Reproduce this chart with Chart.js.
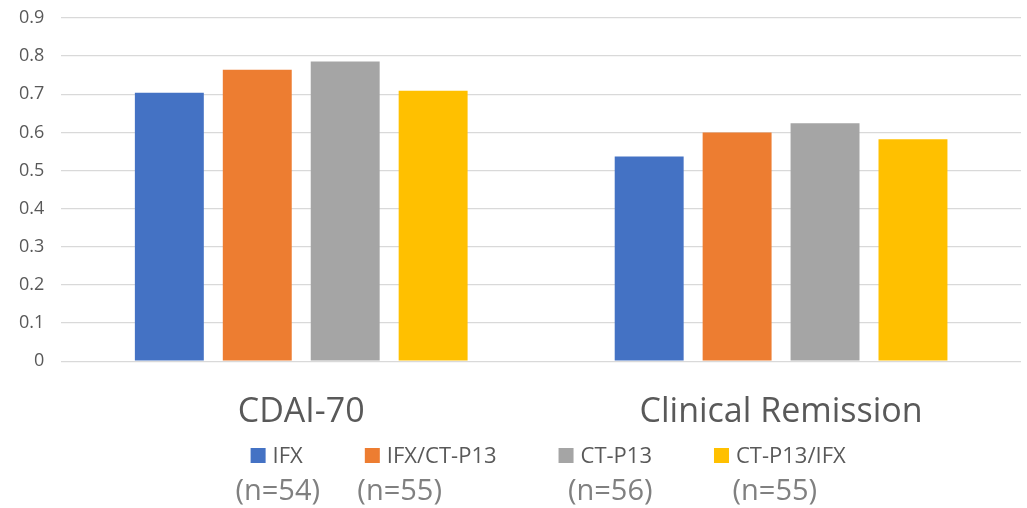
<!DOCTYPE html>
<html>
<head>
<meta charset="utf-8">
<script src="https://cdn.jsdelivr.net/npm/chart.js@4.4.0/dist/chart.umd.min.js"></script>
<style>
  html, body { margin: 0; padding: 0; background: #fff; }
</style>
</head>
<body>
<canvas id="myChart" width="1027" height="508"></canvas>
<script>
// endpoints on the x axis
const categories = ["CDAI-70", "Clinical Remission"];

// treatment groups, one bar each per endpoint
const groups = ["IFX", "IFX/CT-P13", "CT-P13", "CT-P13/IFX"];
const groupSizes = ["(n=54)", "(n=55)", "(n=56)", "(n=55)"];
const groupColors = ["#4472C4", "#ED7D31", "#A5A5A5", "#FFC000"];

// response rates
const ifx = [0.704, 0.537];
const ifxToCtp = [0.764, 0.600];
const ctp = [0.786, 0.624];
const ctpToIfx = [0.709, 0.582];

const yTickLabels = ["0", "0.1", "0.2", "0.3", "0.4", "0.5", "0.6", "0.7", "0.8", "0.9"];

const FONT = '"Open Sans", "Liberation Sans", sans-serif';
const TEXT = "#595959";

const seriesValues = [ifx, ifxToCtp, ctp, ctpToIfx];

// legend row under the axis, with the group sizes below each entry
const legendRow = {
    id: "legendRow",
    afterDraw(chart, args, opts) {
        const ctx = chart.ctx;
        const area = chart.chartArea;
        const box = 15, textGap = 7;
        ctx.save();
        ctx.font = "22px " + FONT;
        const items = chart.data.datasets.map(ds => ({
            text: ds.label,
            color: ds.backgroundColor,
            w: box + textGap + ctx.measureText(ds.label).width
        }));
        const total = items.reduce((s, it) => s + it.w, 0) + opts.gap * (items.length - 1);
        let x = (area.left + area.right) / 2 + opts.shift - total / 2;
        const boxTop = chart.height - 60;
        items.forEach((it, i) => {
            ctx.fillStyle = it.color;
            ctx.fillRect(x, boxTop, box, box);
            ctx.font = "22px " + FONT;
            ctx.fillStyle = TEXT;
            ctx.textAlign = "left";
            ctx.textBaseline = "alphabetic";
            ctx.fillText(it.text, x + box + textGap, boxTop + box);

            ctx.font = "29px " + FONT;
            ctx.fillStyle = "#808080";
            ctx.textAlign = "center";
            ctx.fillText(groupSizes[i], x + it.w / 2 + opts.sizeShift[i], chart.height - 8);
            x += it.w + opts.gap;
        });
        ctx.restore();
    }
};

const ctx = document.getElementById("myChart").getContext("2d");
const myChart = new Chart(ctx, {
    type: "bar",
    data: {
        labels: categories,
        datasets: groups.map((g, i) => ({
            label: g,
            data: seriesValues[i],
            backgroundColor: groupColors[i],
            borderWidth: 0,
            categoryPercentage: 0.733,
            barPercentage: 0.784
        }))
    },
    options: {
        responsive: false,
        animation: false,
        layout: {
            padding: { left: 19, right: 6, top: 18, bottom: 52 }
        },
        scales: {
            x: {
                grid: { display: false },
                border: { display: false },
                ticks: {
                    color: TEXT,
                    padding: 23,
                    font: { family: FONT, size: 34 }
                }
            },
            y: {
                min: 0,
                max: 0.9,
                border: { display: false },
                // invisible tick marks keep the labels clear of the grid
                grid: { color: "#d9d9d9", lineWidth: 1.3, drawTicks: true, tickLength: 17, tickColor: "transparent" },
                ticks: {
                    stepSize: 0.1,
                    padding: 0,
                    color: TEXT,
                    font: { family: FONT, size: 18 },
                    callback: (v, i) => yTickLabels[i]
                }
            }
        },
        plugins: {
            legend: { display: false },
            tooltip: { enabled: false },
            legendRow: { gap: 62, shift: 7, sizeShift: [1, -31, 5, -5] }
        }
    },
    plugins: [legendRow]
});
</script>
</body>
</html>
